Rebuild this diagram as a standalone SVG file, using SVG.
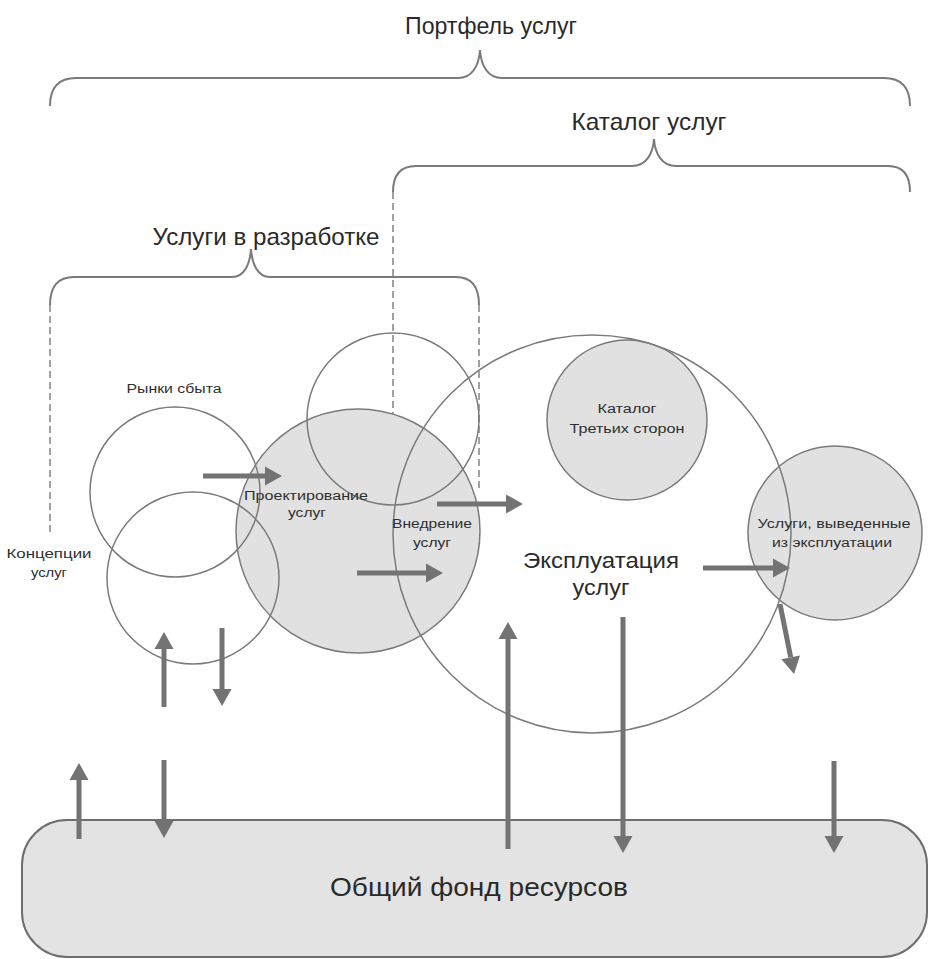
<svg xmlns="http://www.w3.org/2000/svg" width="933" height="959" viewBox="0 0 933 959">
  <defs>
    <marker id="head" markerUnits="userSpaceOnUse" viewBox="0 -10 17 20" markerWidth="17" markerHeight="20" refX="0" refY="0" orient="auto" overflow="visible">
      <path d="M0,-9.5 L17,0 L0,9.5 Z" fill="#737373"/>
    </marker>
  </defs>
  <style>
    .brace { fill: none; stroke: #7a7a7a; stroke-width: 2; }
    .dash { fill: none; stroke: #8a8a8a; stroke-width: 1.6; stroke-dasharray: 7 4; }
    .fillc { fill: #e1e1e1; stroke: none; }
    .ring { fill: none; stroke: #7a7a7a; stroke-width: 1.5; }
    .arrow { stroke: #737373; stroke-width: 5; fill: none; marker-end: url(#head); }
    .big { font-family: "Liberation Sans", Arial, sans-serif; font-size: 24px; fill: #2a2a2a; text-anchor: middle; }
    .mid { font-family: "Liberation Sans", Arial, sans-serif; font-size: 22px; fill: #2a2a2a; text-anchor: middle; }
    .small { font-family: "Liberation Sans", Arial, sans-serif; font-size: 12px; fill: #2f2f2f; text-anchor: middle; }
  </style>
  <rect x="0" y="0" width="933" height="959" fill="#ffffff"/>

  <!-- brackets with their titles -->
  <g id="portfolio">
    <path class="brace" d="M50,106 C50,88 58,78 76,78 L458,78 C472,78 479,66 480,50 C481,66 488,78 502,78 L884,78 C902,78 910,88 910,106"/>
    <text class="big" x="491" y="34" textLength="172" lengthAdjust="spacingAndGlyphs">Портфель услуг</text>
  </g>
  <g id="catalog">
    <path class="brace" d="M393,192 C393,175 400,166 416,166 L632,166 C646,166 653,154 654,139 C655,154 662,166 676,166 L888,166 C903,166 910,175 910,192"/>
    <line class="dash" x1="393" y1="192" x2="393" y2="505"/>
    <text class="big" x="649" y="130" textLength="155" lengthAdjust="spacingAndGlyphs">Каталог услуг</text>
  </g>
  <g id="pipeline">
    <path class="brace" d="M50,305 C50,287 57,277 74,277 L232,277 C245,277 250,263 251,249 C252,263 257,277 270,277 L456,277 C472,277 479,287 479,305"/>
    <line class="dash" x1="50" y1="305" x2="50" y2="532"/>
    <line class="dash" x1="479" y1="305" x2="479" y2="490"/>
    <text class="big" x="266" y="245" textLength="227" lengthAdjust="spacingAndGlyphs">Услуги в разработке</text>
  </g>

  <!-- shared resource pool -->
  <g id="resources">
    <rect x="22" y="820" width="905" height="137" rx="45" ry="45" fill="#e3e3e3" stroke="#6e6e6e" stroke-width="2"/>
    <text x="479" y="896" font-family="Liberation Sans, Arial, sans-serif" font-size="26" fill="#2a2a2a" text-anchor="middle" textLength="298" lengthAdjust="spacingAndGlyphs">Общий фонд ресурсов</text>
  </g>

  <!-- shaded circle fills -->
  <g id="fills">
    <circle class="fillc" cx="358" cy="531" r="122"/>
    <circle class="fillc" cx="627" cy="420" r="80"/>
    <circle class="fillc" cx="835" cy="533" r="87"/>
  </g>

  <!-- circle outlines -->
  <g id="markets"><circle class="ring" cx="175" cy="492" r="85"/></g>
  <g id="concepts"><circle class="ring" cx="193" cy="578" r="86"/></g>
  <g id="design"><circle class="ring" cx="358" cy="531" r="122"/></g>
  <g id="transition"><circle class="ring" cx="393" cy="419" r="86"/></g>
  <g id="operation"><circle class="ring" cx="592" cy="534" r="199"/></g>
  <g id="third-party"><circle class="ring" cx="627" cy="420" r="80"/></g>
  <g id="retired"><circle class="ring" cx="835" cy="533" r="87"/></g>

  <!-- flows -->
  <g id="connectors">
    <line class="arrow" x1="203" y1="476" x2="265" y2="476"/>
    <line class="arrow" x1="357" y1="573" x2="426" y2="573"/>
    <line class="arrow" x1="437" y1="504" x2="506" y2="504"/>
    <line class="arrow" x1="703" y1="568" x2="773" y2="568"/>
    <line class="arrow" x1="780" y1="604" x2="790.7" y2="657.3"/>
    <line class="arrow" x1="164" y1="707" x2="164" y2="649"/>
    <line class="arrow" x1="222" y1="628" x2="222" y2="689"/>
    <line class="arrow" x1="79" y1="839" x2="79" y2="780"/>
    <line class="arrow" x1="164" y1="760" x2="164" y2="821"/>
    <line class="arrow" x1="508" y1="849" x2="508" y2="639"/>
    <line class="arrow" x1="623" y1="617" x2="623" y2="836"/>
    <line class="arrow" x1="834" y1="761" x2="834" y2="836"/>
  </g>

  <!-- circle labels -->
  <g id="labels">
    <text class="small" x="174" y="393" textLength="95" lengthAdjust="spacingAndGlyphs">Рынки сбыта</text>
    <text class="small" x="49" y="558" textLength="85" lengthAdjust="spacingAndGlyphs">Концепции</text>
    <text class="small" x="49" y="577" textLength="36" lengthAdjust="spacingAndGlyphs">услуг</text>
    <text class="small" x="306" y="500" textLength="124" lengthAdjust="spacingAndGlyphs">Проектирование</text>
    <text class="small" x="307" y="517" textLength="38" lengthAdjust="spacingAndGlyphs">услуг</text>
    <text class="small" x="432" y="528" textLength="80" lengthAdjust="spacingAndGlyphs">Внедрение</text>
    <text class="small" x="432" y="547" textLength="38" lengthAdjust="spacingAndGlyphs">услуг</text>
    <text class="small" x="627" y="413" textLength="59" lengthAdjust="spacingAndGlyphs">Каталог</text>
    <text class="small" x="627" y="433" textLength="115" lengthAdjust="spacingAndGlyphs">Третьих сторон</text>
    <text class="small" x="834" y="528" textLength="153" lengthAdjust="spacingAndGlyphs">Услуги, выведенные</text>
    <text class="small" x="832" y="547" textLength="120" lengthAdjust="spacingAndGlyphs">из эксплуатации</text>
    <text class="mid" x="601" y="568" textLength="156" lengthAdjust="spacingAndGlyphs">Эксплуатация</text>
    <text class="mid" x="601" y="595" textLength="57" lengthAdjust="spacingAndGlyphs">услуг</text>
  </g>
</svg>
